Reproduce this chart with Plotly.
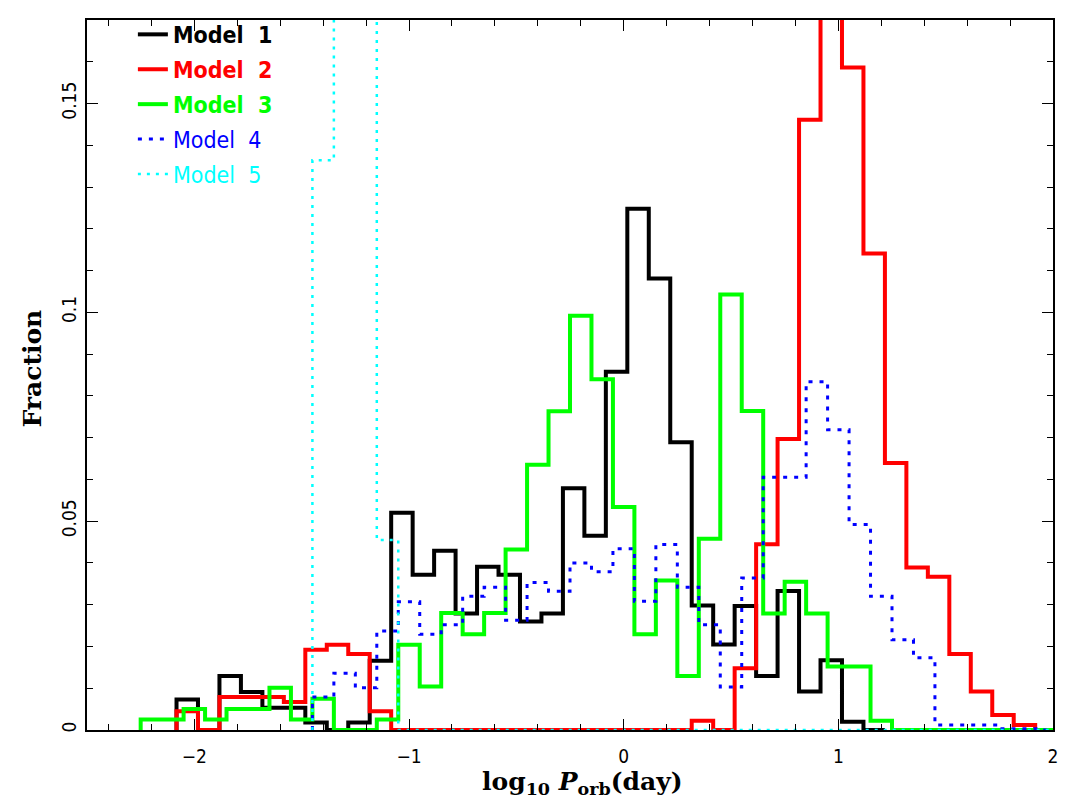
import plotly.graph_objects as go
import numpy as np

# bin width of the log10 P_orb histograms
bin_width = 0.1

# left edge of the first bin of each model
model1_lo = -2.083
model2_lo = -2.083
model3_lo = -2.25
model4_lo = -1.45
model5_lo = -1.45

model1_frac = [0.0073, 0.0, 0.0129, 0.0091, 0.0053, 0.0053, 0.0018, 0.0, 0.0018, 0.0166,
               0.0520, 0.0372, 0.0429, 0.0279, 0.0391, 0.0372, 0.0260, 0.0279, 0.0579, 0.0465,
               0.0858, 0.1248, 0.1081, 0.0689, 0.0298, 0.0205, 0.0297, 0.0129, 0.0333, 0.0092,
               0.0167, 0.0020, 0.0]

model2_frac = [0.0045, 0.0, 0.0079, 0.0079, 0.0079, 0.0067, 0.0192, 0.0204, 0.0182, 0.0045,
               0.0, 0.0, 0.0, 0.0, 0.0, 0.0, 0.0, 0.0, 0.0, 0.0, 0.0, 0.0, 0.0, 0.0,
               0.0022, 0.0, 0.0148, 0.0445, 0.0697, 0.1461, 0.1810, 0.1586, 0.1141, 0.0639,
               0.0389, 0.0367, 0.0182, 0.0092, 0.0036, 0.0012, 0.0]

model3_frac = [0.0025, 0.0025, 0.0050, 0.0025, 0.0050, 0.0050, 0.0101, 0.0025, 0.0075, 0.0,
               0.0, 0.0025, 0.0204, 0.0104, 0.0280, 0.0229, 0.0280, 0.0432, 0.0635, 0.0763,
               0.0992, 0.0840, 0.0534, 0.0229, 0.0358, 0.0129, 0.0458, 0.1043, 0.0764, 0.0279,
               0.0355, 0.0279, 0.0152, 0.0152, 0.0022, 0.0, 0.0, 0.0, 0.0, 0.0, 0.0, 0.0, 0.0]

model4_frac = [0.0079, 0.0136, 0.0101, 0.0237, 0.0307, 0.0229, 0.0252, 0.0320, 0.0342, 0.0263,
               0.0353, 0.0332, 0.0400, 0.0379, 0.0434, 0.0308, 0.0444, 0.0342, 0.0252, 0.0103,
               0.0364, 0.0605, 0.0605, 0.0834, 0.0719, 0.0492, 0.0320, 0.0216, 0.0173, 0.0012,
               0.0012, 0.0012, 0.0003, 0.0003, 0.0]

model5_frac = [0.1364, 0.41, 0.41, 0.0455,
               0.0, 0.0, 0.0, 0.0, 0.0, 0.0, 0.0, 0.0, 0.0, 0.0, 0.0, 0.0, 0.0, 0.0, 0.0, 0.0,
               0.0, 0.0, 0.0, 0.0, 0.0, 0.0, 0.0, 0.0, 0.0, 0.0, 0.0, 0.0, 0.0, 0.0, 0.0]

x_ticks = [-2, -1, 0, 1, 2]
y_ticks = [0, 0.05, 0.1, 0.15]
y_tick_text = ["0", "0.05", "0.1", "0.15"]


def steps(lo, vals):
    edges = lo + bin_width * np.arange(len(vals) + 1)
    x = np.concatenate([[edges[0]], edges[:-1], [edges[-1]]])
    y = [0.0] + list(vals) + [0.0]
    return x, y


series = [
    (model1_lo, model1_frac, "<b>Model&nbsp; 1</b>", "#000000", 4, "solid"),
    (model2_lo, model2_frac, "<b>Model&nbsp; 2</b>", "#ff0000", 4, "solid"),
    (model3_lo, model3_frac, "<b>Model&nbsp; 3</b>", "#00ff00", 4, "solid"),
    (model4_lo, model4_frac, "Model&nbsp; 4", "#0000ff", 3, "4px,7px"),
    (model5_lo, model5_frac, "Model&nbsp; 5", "#00ffff", 2.5, "3px,6px"),
]

fig = go.Figure()
for i, (lo, vals, name, col, w, dash) in enumerate(series):
    x, y = steps(lo, vals)
    fig.add_trace(go.Scatter(
        x=x, y=y, mode="lines", line_shape="hv",
        line=dict(color=col, width=w, dash=dash),
        name="<span style='color:%s'>%s</span>" % (col, name),
        legendgroup="g%d" % i,
    ))

narrow = "Liberation Sans Narrow, DejaVu Sans Condensed, Liberation Sans"

axis_common = dict(
    showgrid=False, zeroline=False, showline=True, linecolor="black", linewidth=2,
    mirror="ticks", ticks="inside", ticklen=11, tickwidth=1.3, tickcolor="black",
    tickfont=dict(family=narrow, size=19, color="black"),
)

fig.update_xaxes(
    range=[-2.5, 2], tickvals=x_ticks, ticklabelstandoff=8,
    minor=dict(dtick=0.2, tick0=0, ticks="inside", ticklen=6, tickcolor="black", tickwidth=1.3),
    **axis_common,
)
fig.update_yaxes(
    range=[0, 0.17], tickvals=y_ticks, ticktext=y_tick_text, tickangle=-90,
    ticklabelstandoff=1,
    minor=dict(dtick=0.01, tick0=0, ticks="inside", ticklen=6, tickcolor="black", tickwidth=1.3),
    **axis_common,
)

fig.add_annotation(
    text="<b>log<sub>10</sub> <i>P</i><sub>orb</sub>(day)</b>", xref="paper", yref="paper",
    x=0.513, y=-0.074, xanchor="center", yanchor="middle", showarrow=False,
    font=dict(family="DejaVu Serif", size=25, color="black"),
)
fig.add_annotation(
    text="<b>Fraction</b>", xref="paper", yref="paper", textangle=-90,
    x=-0.056, y=0.509, xanchor="center", yanchor="middle", showarrow=False,
    font=dict(family="DejaVu Serif", size=25, color="black"),
)

# the page body adds an 8 px offset, so the figure is 8 px smaller than the window
fig.update_layout(
    width=1063, height=801,
    margin=dict(l=79, r=18, t=5, b=79),
    paper_bgcolor="white", plot_bgcolor="white",
    showlegend=True,
    legend=dict(x=0.0475, y=1.01, xanchor="left", yanchor="top",
                bgcolor="rgba(0,0,0,0)", tracegroupgap=2,
                font=dict(family=narrow, size=23, color="black")),
)

fig.write_html("out.html")
